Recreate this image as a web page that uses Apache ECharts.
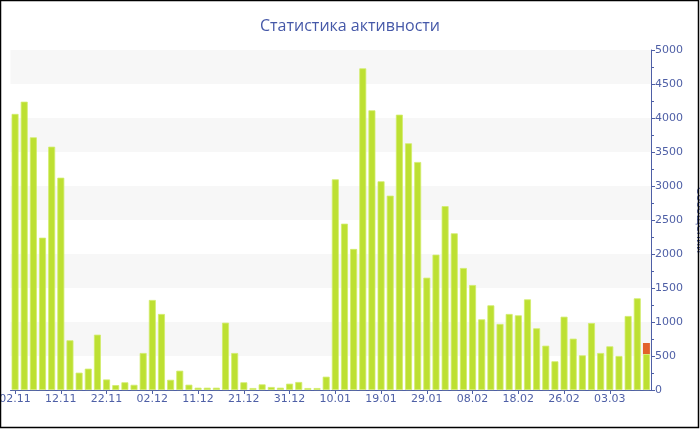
<!DOCTYPE html>
<html>
<head>
<meta charset="utf-8">
<script src="https://cdn.jsdelivr.net/npm/echarts@6/dist/echarts.min.js"></script>
<style>
html,body{margin:0;padding:0;background:#fff;}
#chart{width:700px;height:430px;}
</style>
</head>
<body>
<div id="chart"></div>
<script>
var titleText = 'Статистика активности';
var axisName = 'Сообщений';

var categories = [
  '02.11','04.11','06.11','08.11','10.11',
  '12.11','14.11','16.11','18.11','20.11',
  '22.11','24.11','26.11','28.11','30.11',
  '02.12','04.12','06.12','08.12','09.12',
  '11.12','13.12','15.12','17.12','19.12',
  '21.12','23.12','25.12','27.12','29.12',
  '31.12','02.01','04.01','06.01','08.01',
  '10.01','12.01','14.01','15.01','17.01',
  '19.01','21.01','23.01','25.01','27.01',
  '29.01','31.01','02.02','04.02','06.02',
  '08.02','10.02','12.02','14.02','16.02',
  '18.02','20.02','21.02','23.02','24.02',
  '26.02','27.02','28.02','01.03','02.03',
  '03.03','05.03','07.03','09.03','11.03'
];

var messages = [
  4060, 4240, 3716, 2240, 3578,
  3122, 731, 255, 314, 814,
  155, 72, 113, 76, 544,
  1324, 1118, 150, 284, 78,
  34, 34, 34, 990, 544,
  113, 29, 83, 44, 34,
  93, 118, 29, 29, 196,
  3098, 2446, 2074, 4730, 4113,
  3069, 2858, 4049, 3628, 3353,
  1652, 1990, 2704, 2304, 1794,
  1544, 1039, 1245, 971, 1118,
  1098, 1333, 907, 652, 422,
  1078, 755, 510, 985, 544,
  642, 500, 1088, 1348, 529
];

var extra = [
  null,null,null,null,null,null,null,null,null,null,
  null,null,null,null,null,null,null,null,null,null,
  null,null,null,null,null,null,null,null,null,null,
  null,null,null,null,null,null,null,null,null,null,
  null,null,null,null,null,null,null,null,null,null,
  null,null,null,null,null,null,null,null,null,null,
  null,null,null,null,null,null,null,null,null,162
];

var blue = '#4e5fa6';
var chart = echarts.init(document.getElementById('chart'));
chart.setOption({
  animation: false,
  backgroundColor: '#fff',
  title: {
    text: titleText,
    left: 'center',
    top: 13,
    textStyle: {color: '#4558a8', fontSize: 16, fontWeight: 'normal', fontFamily: 'Open Sans'}
  },
  grid: {left: 10.5, right: 49, top: 50, bottom: 40, containLabel: false, outerBoundsMode: 'none'},
  xAxis: {
    type: 'category',
    data: categories,
    axisLine: {lineStyle: {color: blue, width: 1}},
    axisTick: {show: true, interval: 4, alignWithLabel: true, length: 4, lineStyle: {color: blue}},
    axisLabel: {interval: 4, color: blue, fontSize: 11, fontFamily: 'DejaVu Sans', margin: 4, hideOverlap: false},
    splitLine: {show: false}
  },
  yAxis: {
    type: 'value',
    position: 'right',
    min: 0, max: 5000, interval: 500,
    name: axisName,
    nameLocation: 'middle',
    nameRotate: -90,
    nameGap: 39,
    nameTextStyle: {color: blue, fontSize: 11, fontFamily: 'DejaVu Sans'},
    axisLine: {show: true, lineStyle: {color: blue, width: 1}},
    axisTick: {show: true, length: 4, lineStyle: {color: blue}},
    minorTick: {show: true, splitNumber: 2, length: 3, lineStyle: {color: blue}},
    axisLabel: {color: blue, fontSize: 11, fontFamily: 'DejaVu Sans', margin: 4,
      formatter: function (v) { return String(v); }},
    splitLine: {show: false},
    splitArea: {show: true, areaStyle: {color: ['rgba(255,255,255,0)', '#f7f7f7']}}
  },
  series: [
    {
      type: 'bar',
      stack: 'a',
      data: messages,
      barCategoryGap: '24%',
      itemStyle: {color: '#bde032', borderColor: '#d2ec6c', borderWidth: 0.8}
    },
    {
      type: 'bar',
      stack: 'a',
      data: extra,
      itemStyle: {color: '#e2622b'}
    }
  ],
  graphic: [{
    type: 'rect',
    silent: true,
    z: 100,
    shape: {x: 0.5, y: 0.5, width: 698, height: 427},
    style: {fill: 'none', stroke: '#000', lineWidth: 1.5}
  }]
});
</script>
</body>
</html>
